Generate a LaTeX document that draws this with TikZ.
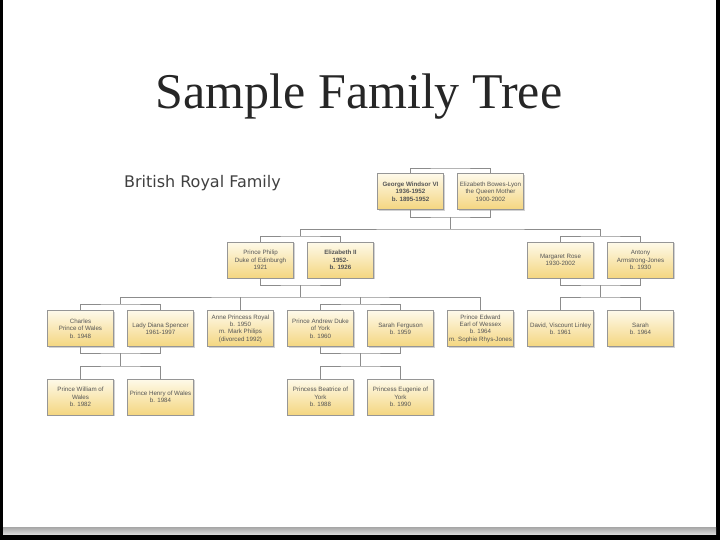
\documentclass[tikz,border=0pt]{standalone}
\usepackage{fontspec}
\setmainfont{Liberation Serif}
\newfontfamily\boxfont{Liberation Sans}
\newfontfamily\headfont{DejaVu Sans}
\usetikzlibrary{shadows}
\definecolor{boxtop}{RGB}{254,250,234}
\definecolor{boxbot}{RGB}{244,214,128}
\definecolor{boxline}{RGB}{150,150,150}
\definecolor{linkcol}{RGB}{140,140,140}
\definecolor{txtcol}{RGB}{85,85,85}
\definecolor{titlecol}{RGB}{38,38,38}
\tikzset{
  person/.style={draw=boxline, line width=0.5pt, top color=boxtop, bottom color=boxbot,
    minimum width=66pt, minimum height=36pt, inner sep=1pt, align=center,
    font=\boxfont\fontsize{6.2}{7.4}\selectfont, text=txtcol,
    drop shadow={shadow xshift=1.2pt, shadow yshift=-1.2pt, opacity=0.35}},
  link/.style={draw=linkcol, line width=0.9pt}
}
\begin{document}
\begin{tikzpicture}[x=1pt,y=-1pt]
\useasboundingbox (0,0) rectangle (720,540);
\fill[black] (0,0) rectangle (720,540);
\fill[white] (3,0) rectangle (716,527);
\shade[top color=gray!70, bottom color=gray!30] (3,527) rectangle (716,534);

\node[font=\fontsize{50}{54}\selectfont, text=titlecol] (title) at (359,97) {Sample Family Tree};
\node[font=\headfont\fontsize{16}{18}\selectfont, text=black!75, anchor=west] (sub) at (120.5,183.5) {British Royal Family};

% row 1
\node[person] (george) at (410.5,191.5) {\textbf{George Windsor VI}\\\textbf{1936-1952}\\\textbf{b. 1895-1952}};
\node[person] (ebl) at (490.5,191.5) {Elizabeth Bowes-Lyon\\the Queen Mother\\1900-2002};
% row 2
\node[person] (philip) at (260.5,260) {Prince Philip\\Duke of Edinburgh\\1921};
\node[person] (eliz) at (340.5,260) {\textbf{Elizabeth II}\\\textbf{1952-}\\\textbf{b. 1926}};
\node[person] (margaret) at (560.5,260) {Margaret Rose\\1930-2002};
\node[person] (antony) at (640.5,260) {Antony\\Armstrong-Jones\\b. 1930};
% row 3
\node[person] (charles) at (80.5,328.5) {Charles\\Prince of Wales\\b. 1948};
\node[person] (diana) at (160.5,328.5) {Lady Diana Spencer\\1961-1997};
\node[person] (anne) at (240.5,328.5) {Anne Princess Royal\\b. 1950\\m. Mark Philips\\(divorced 1992)};
\node[person] (andrew) at (320.5,328.5) {Prince Andrew Duke\\of York\\b. 1960};
\node[person] (sarahf) at (400.5,328.5) {Sarah Ferguson\\b. 1959};
\node[person] (edward) at (480.5,328.5) {Prince Edward\\Earl of Wessex\\b. 1964\\m. Sophie Rhys-Jones};
\node[person] (david) at (560.5,328.5) {David, Viscount Linley\\b. 1961};
\node[person] (sarah) at (640.5,328.5) {Sarah\\b. 1964};
% row 4
\node[person] (william) at (80.5,397) {Prince William of\\Wales\\b. 1982};
\node[person] (harry) at (160.5,397) {Prince Henry of Wales\\b. 1984};
\node[person] (beatrice) at (320.5,397) {Princess Beatrice of\\York\\b. 1988};
\node[person] (eugenie) at (400.5,397) {Princess Eugenie of\\York\\b. 1990};

% junctions
\coordinate (top1) at (450.5,168);
\coordinate (j1) at (450.5,217);
\coordinate (j2) at (450.5,229);
\coordinate (k1) at (300.5,236);
\coordinate (k2) at (600.5,236);
\coordinate (m1) at (300.5,285);
\coordinate (m2) at (300.5,297);
\coordinate (m3) at (600.5,285);
\coordinate (m4) at (600.5,297);
\coordinate (n1) at (120.5,304);
\coordinate (n2) at (360.5,304);
\coordinate (p1) at (120.5,353);
\coordinate (p2) at (120.5,366);
\coordinate (q1) at (360.5,353);
\coordinate (q2) at (360.5,366);

% connectors
\draw[link] (george.north) |- (top1) -| (ebl.north);
\draw[link] (george.south) |- (j1) -| (ebl.south);
\draw[link] (j1) -- (j2);
\draw[link] (k1) |- (j2) -| (k2);
\draw[link] (philip.north) |- (k1) -| (eliz.north);
\draw[link] (margaret.north) |- (k2) -| (antony.north);
\draw[link] (philip.south) |- (m1) -| (eliz.south);
\draw[link] (m1) -- (m2);
\draw[link] (n1) |- (m2) -| (edward.north);
\draw[link] (anne.north) -- (anne.north |- m2);
\draw[link] (n2) -- (n2 |- m2);
\draw[link] (charles.north) |- (n1) -| (diana.north);
\draw[link] (andrew.north) |- (n2) -| (sarahf.north);
\draw[link] (margaret.south) |- (m3) -| (antony.south);
\draw[link] (m3) -- (m4);
\draw[link] (david.north) |- (m4) -| (sarah.north);
\draw[link] (charles.south) |- (p1) -| (diana.south);
\draw[link] (p1) -- (p2);
\draw[link] (william.north) |- (p2) -| (harry.north);
\draw[link] (andrew.south) |- (q1) -| (sarahf.south);
\draw[link] (q1) -- (q2);
\draw[link] (beatrice.north) |- (q2) -| (eugenie.north);
\end{tikzpicture}
\end{document}
